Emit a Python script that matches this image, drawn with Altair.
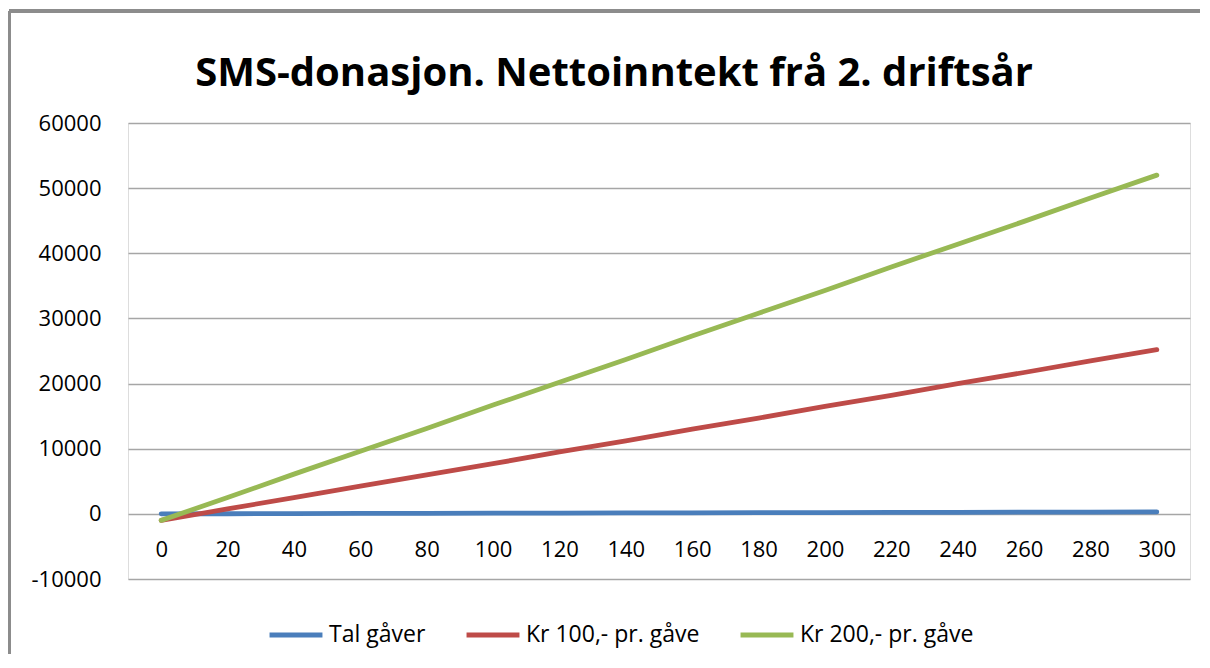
import altair as alt
import pandas as pd

x_vals = [0, 20, 40, 60, 80, 100, 120, 140, 160, 180, 200, 220, 240, 260, 280, 300]
tal_gaver = [0, 20, 40, 60, 80, 100, 120, 140, 160, 180, 200, 220, 240, 260, 280, 300]
kr100 = [-1000, 750, 2500, 4250, 6000, 7700, 9500, 11200, 13000, 14700, 16500, 18200, 20000, 21700, 23500, 25200]
kr200 = [-1000, 2500, 6100, 9600, 13100, 16700, 20200, 23700, 27300, 30800, 34300, 37900, 41400, 44900, 48500, 52000]
series_names = ["Tal gåver", "Kr 100,- pr. gåve", "Kr 200,- pr. gåve"]
series_colors = ["#4A7EBB", "#BE4B48", "#98B954"]
y_ticks = [-10000, 0, 10000, 20000, 30000, 40000, 50000, 60000]

rows = []
for name, vals in zip(series_names, [tal_gaver, kr100, kr200]):
    for xv, yv in zip(x_vals, vals):
        rows.append({"x": xv, "y": yv, "serie": name, "order": series_names.index(name)})
df = pd.DataFrame(rows)

FONT = "Open Sans"
W, H = 1062, 456

lines = alt.Chart(df).mark_line(strokeWidth=4.8, strokeCap="round").encode(
    x=alt.X("x:Q", scale=alt.Scale(domain=[-10, 310], nice=False, zero=False),
            axis=alt.Axis(values=x_vals, title=None, grid=False, domain=False, ticks=False,
                          offset=-65, labelPadding=25, labelFontSize=22, labelFont=FONT,
                          labelColor="#000000", labelFlush=False,
                          labelExpr="'' + datum.value")),
    y=alt.Y("y:Q", scale=alt.Scale(domain=[-10000, 60000], nice=False),
            axis=alt.Axis(values=y_ticks, title=None, domain=False, ticks=False,
                          labelPadding=27, labelFontSize=22, labelFont=FONT,
                          labelColor="#000000", gridColor="#A6A6A6", gridWidth=1.3,
                          labelExpr="'' + datum.value")),
    color=alt.Color("serie:N", scale=alt.Scale(domain=series_names, range=series_colors),
                    sort=series_names,
                    legend=alt.Legend(title=None, orient="none", direction="horizontal",
                                      legendX=139, legendY=483,
                                      symbolType="stroke", symbolSize=2800, symbolStrokeWidth=4.8,
                                      labelFontSize=23, labelFont=FONT, labelColor="#000000",
                                      labelLimit=400, columnPadding=30, labelOffset=4)),
    detail="serie:N",
    order=alt.Order("order:Q"),
)

frame_top = alt.Chart(df).mark_rule(color="#8C8C8C", strokeWidth=2.5).encode(
    x=alt.value(-119), x2=alt.value(1090), y=alt.value(-112))
frame_left = alt.Chart(df).mark_rule(color="#8C8C8C", strokeWidth=2.5).encode(
    x=alt.value(-119), y=alt.value(-112), y2=alt.value(560))

chart = alt.layer(frame_top, frame_left, lines).properties(
    width=W, height=H,
    title=alt.TitleParams("SMS-donasjon. Nettoinntekt frå 2. driftsår", font=FONT,
                          fontSize=40, fontWeight="bold", color="#000000",
                          anchor="middle", dx=-45, offset=-116, baseline="alphabetic"),
    autosize=alt.AutoSizeParams(type="none"),
    padding={"left": 120, "top": 115, "right": 10, "bottom": 75},
).configure_view(stroke=None).configure(background="#FFFFFF")

chart.save("out.html", embed_options={"renderer": "svg", "actions": False})
